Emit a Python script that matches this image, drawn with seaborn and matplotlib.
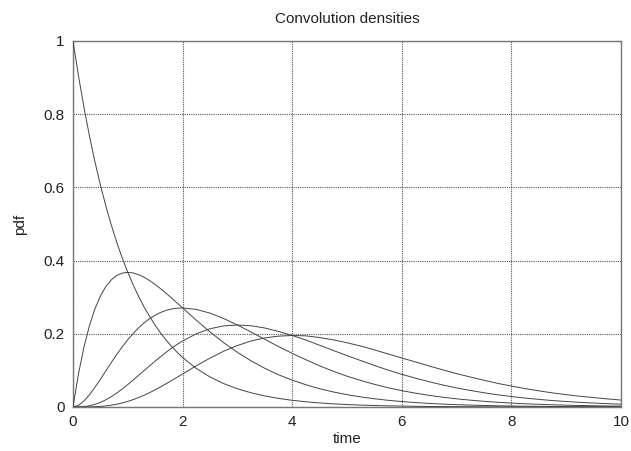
import numpy as np
import pandas as pd
import matplotlib
matplotlib.use("Agg")
import matplotlib.pyplot as plt
import seaborn as sns

time = [0, 0.1, 0.2, 0.3, 0.4, 0.5, 0.6, 0.7, 0.8, 0.9, 1.0, 1.1, 1.2, 1.3, 1.4, 1.5, 1.6,
        1.7, 1.8, 1.9, 2.0, 2.25, 2.5, 2.75, 3, 3.25, 3.5, 3.75,
        4, 4.25, 4.5, 4.75, 5, 5.25, 5.5, 5.75, 6, 6.25, 6.5, 6.75, 7, 7.25, 7.5, 7.75,
        8, 8.25, 8.5, 8.75, 9, 9.25, 9.5, 9.75, 10]

pdf1 = [1.0, 0.9048, 0.8187, 0.7408, 0.6703, 0.6065, 0.5488, 0.4966, 0.4493, 0.4066, 0.3679,
        0.3329, 0.3012, 0.2725, 0.2466, 0.2231, 0.2019, 0.1827, 0.1653, 0.1496, 0.1353,
        0.1054, 0.0821, 0.0639, 0.0498, 0.0388, 0.0302, 0.0235, 0.0183, 0.0143, 0.0111,
        0.00865, 0.00674, 0.00525, 0.00409, 0.00318, 0.00248, 0.00193, 0.0015, 0.00117,
        0.000912, 0.00071, 0.000553, 0.000431, 0.000335, 0.000261, 0.000203, 0.000158,
        0.000123, 0.0000961, 0.0000749, 0.0000583, 0.0000454]
pdf2 = [0.0, 0.0905, 0.1637, 0.2222, 0.2681, 0.3033, 0.3293, 0.3476, 0.3595, 0.3659, 0.3679,
        0.3662, 0.3614, 0.3543, 0.3452, 0.3347, 0.323, 0.3106, 0.2975, 0.2842, 0.2707,
        0.2371, 0.2052, 0.1758, 0.1494, 0.1261, 0.1057, 0.0881, 0.0733, 0.0608, 0.05,
        0.0411, 0.0337, 0.0276, 0.0225, 0.0183, 0.0149, 0.0121, 0.00977, 0.0079, 0.00638,
        0.00515, 0.00415, 0.00334, 0.00268, 0.00215, 0.00173, 0.00138, 0.00111, 0.00089,
        0.00071, 0.00057, 0.00045]
pdf3 = [0.0, 0.0045, 0.0164, 0.0333, 0.0536, 0.0758, 0.0988, 0.1217, 0.1438, 0.1647, 0.1839,
        0.2014, 0.2168, 0.2303, 0.2416, 0.251, 0.2584, 0.264, 0.2678, 0.27, 0.2707,
        0.2667, 0.2565, 0.2417, 0.224, 0.2049, 0.185, 0.1652, 0.1465, 0.1292, 0.1125,
        0.0976, 0.0842, 0.0725, 0.0619, 0.0526, 0.0446, 0.0378, 0.0318, 0.0267, 0.0223,
        0.0187, 0.0156, 0.0129, 0.0107, 0.00887, 0.00735, 0.00604, 0.005, 0.0041, 0.0034,
        0.0028, 0.0023]
pdf4 = [0.0, 0.00015, 0.0011, 0.0033, 0.0071, 0.0126, 0.0198, 0.0284, 0.0383, 0.0494, 0.0613,
        0.0738, 0.0867, 0.0998, 0.1127, 0.1255, 0.1378, 0.1496, 0.1607, 0.171, 0.1804,
        0.2, 0.2138, 0.2216, 0.224, 0.222, 0.2158, 0.2065, 0.1954, 0.183, 0.1687, 0.1545,
        0.1404, 0.1269, 0.1135, 0.1008, 0.0892, 0.0788, 0.0689, 0.0601, 0.0521, 0.0452,
        0.039, 0.0333, 0.0286, 0.0244, 0.0208, 0.0176, 0.015, 0.0127, 0.0108, 0.0091, 0.0076]
pdf5 = [0.0, 0.000004, 0.00006, 0.00025, 0.0007, 0.0016, 0.003, 0.005, 0.0077, 0.0111, 0.0153,
        0.0203, 0.026, 0.0324, 0.0394, 0.0471, 0.0551, 0.0636, 0.0723, 0.0812, 0.0902,
        0.1125, 0.1336, 0.1524, 0.168, 0.1804, 0.1888, 0.1936, 0.1954, 0.1944, 0.1898,
        0.1835, 0.1755, 0.1666, 0.1561, 0.1449, 0.1338, 0.1231, 0.112, 0.1014, 0.0912,
        0.0819, 0.0731, 0.0645, 0.0572, 0.0503, 0.0442, 0.0385, 0.0338, 0.0294, 0.0257,
        0.0222, 0.019]

series = {"1": pdf1, "2": pdf2, "3": pdf3, "4": pdf4, "5": pdf5}
df = pd.concat([pd.DataFrame({"time": time, "pdf": v, "n": k}) for k, v in series.items()],
               ignore_index=True)

sns.set_style("white")
plt.rcParams["font.family"] = ["Liberation Sans", "DejaVu Sans"]

fig = plt.figure(figsize=(6.31, 4.51), dpi=100)
ax = fig.add_axes([73 / 631, 1 - 407 / 451, (621 - 73) / 631, (407 - 41) / 451])

sns.lineplot(data=df, x="time", y="pdf", hue="n", palette=["#444444"] * 5,
             linewidth=0.7, legend=False, ax=ax, zorder=3)

ax.set_xlim(0, 10)
ax.set_ylim(0, 1)
ax.set_xticks([0, 2, 4, 6, 8, 10])
ax.set_xticklabels(["0", "2", "4", "6", "8", "10"])
ax.set_yticks([0, 0.2, 0.4, 0.6, 0.8, 1])
ax.set_yticklabels(["0", "0.2", "0.4", "0.6", "0.8", "1"])
ax.grid(True, color="#555555", linestyle=(0, (1, 1)), linewidth=0.8)
for s in ax.spines.values():
    s.set_color("#777777")
    s.set_linewidth(1.0)
ax.tick_params(length=0, labelsize=11, colors="#222222", pad=6)
ax.set_xlabel("time", fontsize=11, color="#222222", labelpad=2)
ax.set_ylabel("pdf", fontsize=11, color="#222222", labelpad=12)
ax.set_title("Convolution densities", fontsize=11, color="#222222", pad=13)

fig.savefig("out.png", dpi=100)
